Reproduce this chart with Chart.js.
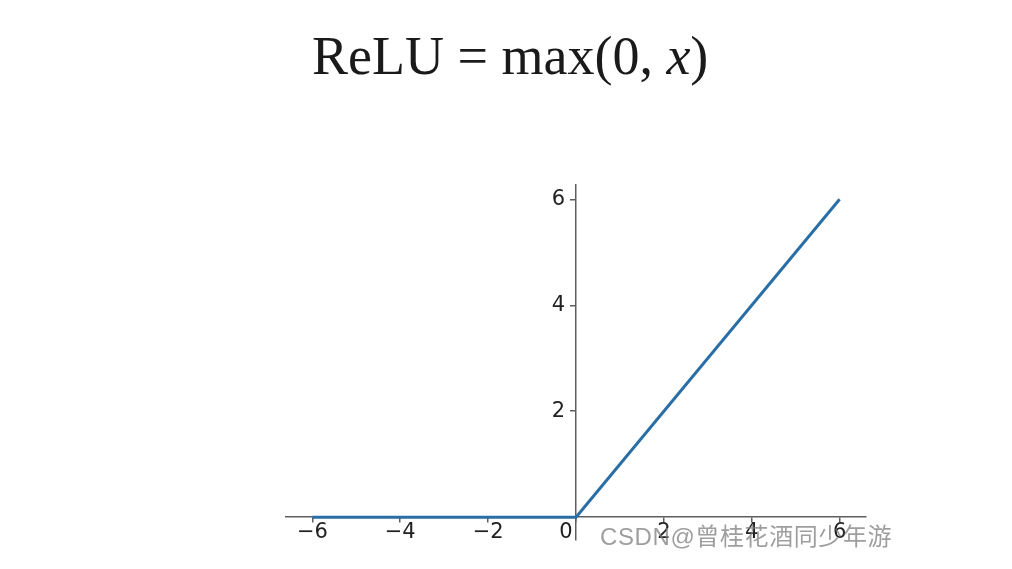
<!DOCTYPE html>
<html>
<head>
<meta charset="utf-8">
<script src="https://cdn.jsdelivr.net/npm/chart.js"></script>
<style>
  html, body { margin: 0; padding: 0; background: #fff; }
  #wrap { position: relative; width: 1012px; height: 569px; overflow: hidden; }
  #titulo {
    position: absolute; left: 312px; top: 29px;
    font-family: "Liberation Serif", serif; font-size: 54px; line-height: 54px;
    color: #1a1a1a; white-space: nowrap;
  }
  #marca {
    position: absolute; left: 600px; top: 523px;
    font-family: "Liberation Sans", "Noto Sans CJK SC", sans-serif; font-size: 24px; line-height: 28px;
    color: rgba(125, 125, 125, 0.75); white-space: nowrap; letter-spacing: 0.6px;
  }
</style>
</head>
<body>
<div id="wrap">
  <canvas id="grafico" width="1012" height="569"></canvas>
  <div id="titulo">ReLU = max(0, <i>x</i>)</div>
  <div id="marca">CSDN@曾桂花酒同少年游</div>
</div>
<script>
// dados da curva ReLU
const valoresX = [-6, 0, 6];
const valoresY = [0, 0, 6];
const ticksX = [-6, -4, -2, 0, 2, 4, 6];
const ticksY = [2, 4, 6];

const pontos = valoresX.map((x, i) => ({ x: x, y: valoresY[i] }));

const corEixo = '#5e5e5e';
const corTexto = '#222222';

const config = {
    type: 'scatter',
    data: {
        datasets: [{
            data: pontos,
            showLine: true,
            borderColor: '#2a6ea6',
            borderWidth: 3,
            pointRadius: 0,
            tension: 0
        }]
    },
    options: {
        responsive: false,
        animation: false,
        layout: {
            padding: { left: 286, right: 146, top: 185, bottom: 29 }
        },
        plugins: {
            legend: { display: false },
            tooltip: { enabled: false }
        },
        scales: {
            x: {
                type: 'linear',
                position: { y: 0 },
                min: -6.6,
                max: 6.6,
                afterBuildTicks: s => { s.ticks = ticksX.map(v => ({ value: v })); },
                grid: { drawOnChartArea: false, drawTicks: true, tickLength: 5, color: corEixo, lineWidth: 1.5 },
                border: { display: true, color: corEixo, width: 1.5 },
                ticks: {
                    color: corTexto,
                    padding: -2,
                    maxRotation: 0,
                    autoSkip: false,
                    font: { family: 'DejaVu Sans', size: 21 },
                    callback: v => v === 0 ? '0\u00a0\u00a0\u00a0' : String(v).replace('-', '\u2212')
                }
            },
            y: {
                type: 'linear',
                position: { x: 0 },
                min: -0.43,
                max: 6.27,
                afterBuildTicks: s => { s.ticks = ticksY.map(v => ({ value: v })); },
                grid: { drawOnChartArea: false, drawTicks: true, tickLength: 5, color: corEixo, lineWidth: 1.5 },
                border: { display: true, color: corEixo, width: 1.5 },
                ticks: {
                    color: corTexto,
                    autoSkip: false,
                    font: { family: 'DejaVu Sans', size: 21 },
                    // o rótulo fica colado no eixo, então empurro pra esquerda com espaços
                    callback: v => String(v) + '\u00a0\u2009'
                }
            }
        }
    }
};

document.addEventListener('DOMContentLoaded', function() {
    var ctx = document.getElementById('grafico').getContext('2d');
    new Chart(ctx, config);
});
</script>
</body>
</html>
